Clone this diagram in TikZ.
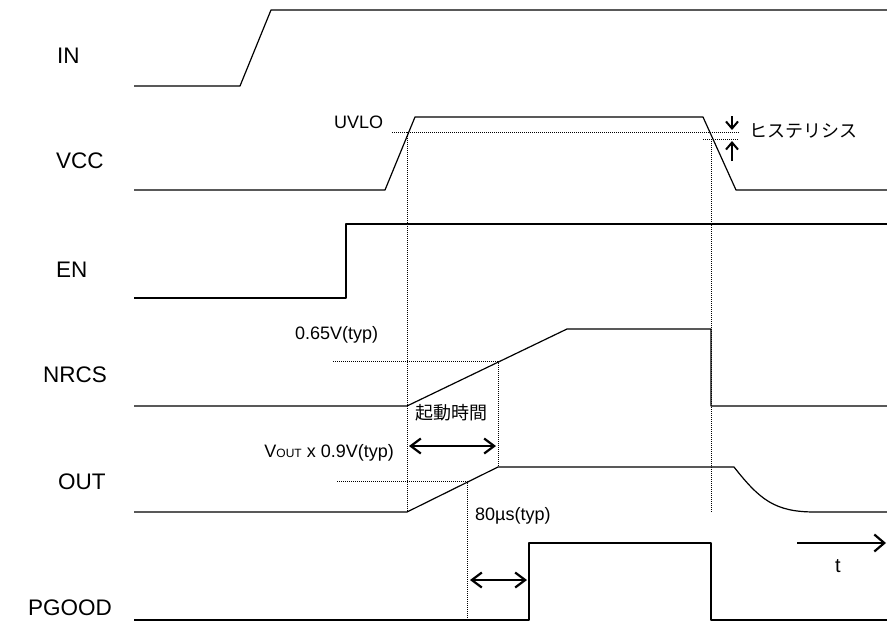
\documentclass[tikz,border=0pt]{standalone}
\usepackage{fontspec}
\setmainfont{Liberation Sans}
\newfontfamily\jp{Noto Sans CJK JP}
\usetikzlibrary{arrows.meta}
\tikzset{
  sig/.style={line width=1.2pt, line join=round},
  guide/.style={line width=0.9pt, dash pattern=on 1pt off 1pt},
  biglabel/.style={font=\fontsize{22.5}{24}\selectfont, inner sep=0pt, anchor=base west},
  small/.style={font=\fontsize{18}{20}\selectfont, inner sep=0pt},
  dbl/.style={line width=2.2pt, {Straight Barb[length=10pt,width=15pt]}-{Straight Barb[length=10pt,width=15pt]}},
  sarrow/.style={line width=2pt, -{Straight Barb[length=7pt,width=12pt]}},
  tarrow/.style={line width=2.2pt, -{Straight Barb[length=10pt,width=17pt]}}
}
\begin{document}
\begin{tikzpicture}[x=1pt,y=-1pt]
\useasboundingbox (0,0) rectangle (887,621);
% labels
\node[biglabel] (lIN) at (57,63) {IN};
\node[biglabel] (lVCC) at (56,168) {VCC};
\node[biglabel] (lEN) at (56,277) {EN};
\node[biglabel] (lNRCS) at (43,382) {NRCS};
\node[biglabel] (lOUT) at (58,489) {OUT};
\node[biglabel] (lPG) at (28,615) {PGOOD};
% guides
\coordinate (uvL) at (392,132);
\coordinate (uvR) at (739,132);
\coordinate (hyL) at (703,139);
\coordinate (hyR) at (739,139);
\draw[guide] (uvL) -- (uvR);
\draw[guide] (hyL) -- (hyR);
\coordinate (v1t) at (407,132); \coordinate (v1b) at (407,512);
\draw[guide] (v1t) -- (v1b);
\coordinate (v2t) at (711.5,139); \coordinate (v2b) at (711.5,512);
\draw[guide] (v2t) -- (v2b);
\coordinate (n65L) at (333,361); \coordinate (n65R) at (498,361);
\draw[guide] (n65L) -- (n65R);
\coordinate (v3b) at (498,467);
\draw[guide] (n65R) -- (v3b);
\coordinate (o9L) at (337,481); \coordinate (o9R) at (467,481);
\draw[guide] (o9L) -- (o9R);
\coordinate (v4b) at (467,620);
\draw[guide] (o9R) -- (v4b);
% IN
\draw[sig] (134,86) -- (240,86) -- (271,10) -- (887,10);
% VCC
\draw[sig] (134,190) -- (385,190) -- (415,117) -- (703,117) -- (736,190) -- (887,190);
% EN
\draw[sig] (134,298) -- (346,298) -- (346,224) -- (887,224);
% NRCS
\draw[sig] (134,406) -- (407,406) -- (567,329) -- (711,329) -- (711,406) -- (887,406);
% OUT
\draw[sig] (134,512) -- (407,512) -- (498,467) -- (734,467) .. controls (760,500) and (775,512) .. (815,512) -- (887,512);
% PGOOD
\draw[sig] (134,620) -- (529,620) -- (529,543) -- (711,543) -- (711,620) -- (887,620);
% texts
\node[small, anchor=base west] (uvlo) at (334,128) {UVLO};
\node[small, anchor=west, font=\jp\fontsize{18}{20}\selectfont] (hys) at (749,131) {ヒステリシス};
\node[small, anchor=base west] (n65) at (295,339) {0.65V(typ)};
\node[small, anchor=center, font=\jp\fontsize{18}{20}\selectfont] (kido) at (451,413) {起動時間};
\node[small, anchor=base east] (vout) at (394,457) {V{\fontsize{12}{12}\selectfont OUT} x 0.9V(typ)};
\node[small, anchor=base west] (us) at (475,520) {80µs(typ)};
\node[small, anchor=base, font=\fontsize{20}{22}\selectfont] (tt) at (838,572) {t};
% arrows
\coordinate (a1L) at (409,446); \coordinate (a1R) at (496,446);
\draw[dbl] (a1L) -- (a1R);
\coordinate (a2L) at (470,580); \coordinate (a2R) at (527,580);
\draw[dbl] (a2L) -- (a2R);
\coordinate (ht1) at (732,116); \coordinate (ht2) at (732,130);
\draw[sarrow] (ht1) -- (ht2);
\coordinate (hb1) at (732,161); \coordinate (hb2) at (732,141);
\draw[sarrow] (hb1) -- (hb2);
\coordinate (t1) at (797,543); \coordinate (t2) at (886,543);
\draw[tarrow] (t1) -- (t2);
\end{tikzpicture}
\end{document}
